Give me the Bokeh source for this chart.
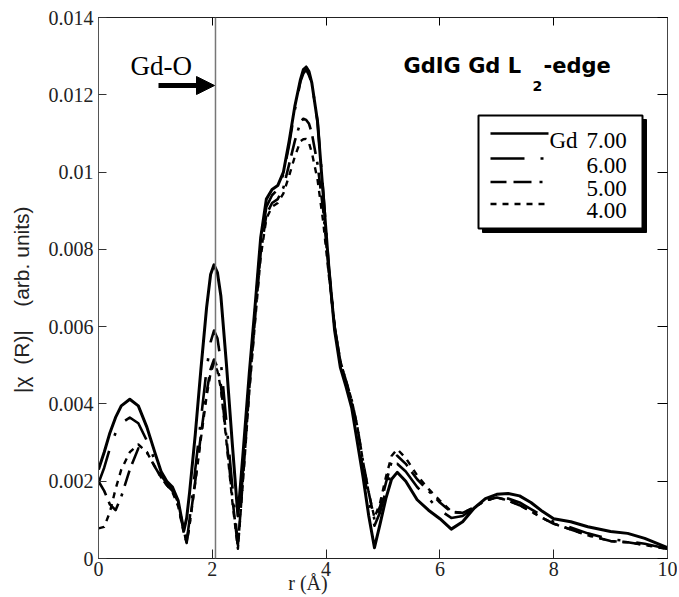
from bokeh.plotting import figure
from bokeh.models import (FixedTicker, LinearAxis, Range1d, Label, Span, Arrow,
                          NormalHead)
from bokeh.embed import file_html
from bokeh.resources import INLINE

# ---------------- data ----------------
r = [0.0, 0.1, 0.2, 0.3, 0.4, 0.55, 0.7, 0.85, 1.0, 1.1, 1.2, 1.3, 1.4, 1.5, 1.55,
     1.6, 1.7, 1.8, 1.9, 1.97, 2.03, 2.09, 2.15, 2.25, 2.35, 2.45, 2.55, 2.65, 2.75, 2.85, 2.95,
     3.05, 3.15, 3.25, 3.35, 3.45, 3.55, 3.6, 3.65, 3.7, 3.75, 3.85, 3.95, 4.05, 4.15, 4.25,
     4.35, 4.45, 4.55, 4.65, 4.75, 4.85, 4.95, 5.05, 5.15, 5.25, 5.4, 5.6, 5.8, 6.0,
     6.2, 6.4, 6.6, 6.8, 7.0, 7.2, 7.4, 7.6, 7.8, 8.0, 8.3, 8.6, 9.0, 9.3, 9.6, 10.0]

gd700 = [2.30, 2.75, 3.25, 3.65, 3.95, 4.12, 3.95, 3.40, 2.70, 2.25, 2.00, 1.85, 1.50, 0.72, 1.05,
         1.70, 3.20, 4.90, 6.50, 7.35, 7.60, 7.40, 6.80, 5.00, 3.00, 1.10, 2.90, 4.80, 6.50, 8.30, 9.30,
         9.55, 9.65, 10.0, 10.8, 11.7, 12.4, 12.65, 12.72, 12.6, 12.3, 11.3, 9.4, 7.5, 5.9, 4.95,
         4.45, 3.9, 3.0, 2.1, 1.1, 0.28, 0.90, 1.55, 2.05, 2.23, 2.00, 1.52, 1.25, 1.03,
         0.76, 0.95, 1.30, 1.55, 1.66, 1.68, 1.62, 1.45, 1.22, 1.03, 0.95, 0.82, 0.70, 0.65, 0.52, 0.28]

gd600 = [1.95, 2.35, 2.85, 3.25, 3.50, 3.65, 3.50, 3.05, 2.50, 2.15, 1.95, 1.80, 1.45, 0.70, 0.45,
         1.00, 2.30, 3.60, 4.90, 5.60, 5.90, 5.70, 5.10, 3.50, 1.90, 0.35, 2.50, 4.60, 6.40, 8.10, 9.10,
         9.40, 9.55, 9.95, 10.7, 11.6, 12.35, 12.55, 12.65, 12.5, 12.3, 11.3, 9.5, 7.5, 6.0, 5.1,
         4.55, 4.0, 3.2, 2.3, 1.5, 0.85, 1.20, 1.75, 2.30, 2.45, 2.25, 1.85, 1.55, 1.25,
         1.05, 1.10, 1.30, 1.50, 1.58, 1.55, 1.45, 1.28, 1.10, 0.95, 0.80, 0.65, 0.50, 0.45, 0.38, 0.25]

gd500 = [2.00, 1.75, 1.40, 1.25, 1.60, 2.30, 2.85, 2.75, 2.35, 2.10, 1.90, 1.75, 1.40, 0.70, 0.42,
         0.90, 2.00, 3.20, 4.30, 4.90, 5.15, 4.95, 4.50, 3.10, 1.60, 0.30, 2.30, 4.40, 6.20, 7.90, 8.90,
         9.20, 9.30, 9.60, 10.2, 10.8, 11.3, 11.38, 11.35, 11.25, 11.0, 10.2, 9.0, 7.4, 6.0, 5.1,
         4.6, 4.1, 3.4, 2.5, 1.7, 1.00, 1.35, 1.95, 2.50, 2.66, 2.45, 2.05, 1.75, 1.45,
         1.20, 1.18, 1.32, 1.50, 1.58, 1.50, 1.38, 1.22, 1.05, 0.90, 0.75, 0.60, 0.45, 0.42, 0.35, 0.25]

gd400 = [0.78, 0.82, 1.20, 1.80, 2.30, 2.75, 2.95, 2.75, 2.35, 2.10, 1.90, 1.72, 1.35, 0.65, 0.40,
         0.85, 1.95, 3.10, 4.20, 4.80, 5.05, 4.85, 4.40, 3.00, 1.50, 0.25, 2.20, 4.30, 6.10, 7.80, 8.80,
         9.10, 9.20, 9.45, 9.90, 10.4, 10.8, 10.85, 10.86, 10.75, 10.5, 9.8, 8.7, 7.3, 6.0, 5.1,
         4.6, 4.1, 3.4, 2.5, 1.7, 1.05, 1.45, 2.10, 2.65, 2.83, 2.60, 2.15, 1.80, 1.50,
         1.22, 1.18, 1.32, 1.50, 1.58, 1.50, 1.38, 1.22, 1.05, 0.90, 0.75, 0.60, 0.45, 0.42, 0.35, 0.25]

series_names = ["7.00", "6.00", "5.00", "4.00"]
series_vals = [gd700, gd600, gd500, gd400]

x_ticks = [0, 2, 4, 6, 8, 10]
y_ticks = [0, 0.002, 0.004, 0.006, 0.008, 0.010, 0.012, 0.014]
y_tick_labels = ["0", "0.002", "0.004", "0.006", "0.008", "0.01", "0.012", "0.014"]
gd_o_position = 2.056

# ---------------- styles ----------------
dashes = ["solid", "34 16 3 16", "16 7 18 8 3 8", "6 6"]
widths = [3.0, 2.6, 2.6, 2.4]

SERIF = "Liberation Serif"
SANS = "Liberation Sans"
TFONT = "DejaVu Sans"
NB = "\u00a0"

# ---------------- figure ----------------
FL, FR, FT, FB = 98, 667, 17, 558   # frame in canvas pixels
W, H = 677, 597
p = figure(width=W, height=H, output_backend="svg", toolbar_location=None,
           x_range=Range1d(0, 10), y_range=Range1d(0, 0.014),
           min_border_left=FL, min_border_right=W - FR,
           min_border_top=FT, min_border_bottom=H - FB)
p.grid.visible = False
p.outline_line_color = "#222222"
p.outline_line_width = 1
p.background_fill_color = "white"
p.border_fill_color = "white"


def X(px):
    return (px - FL) / (FR - FL) * 10.0


def Y(py):
    return (FB - py) / (FB - FT) * 0.014


# axes
xa = p.xaxis[0]
xa.ticker = FixedTicker(ticks=x_ticks)
xa.major_label_text_font = SERIF
xa.major_label_text_font_size = "20px"
xa.major_label_text_color = "#222222"
xa.major_tick_in = 9
xa.major_tick_out = 0
xa.minor_tick_line_color = None
xa.major_label_standoff = 3
xa.axis_line_color = "#222222"
xa.major_tick_line_color = "#222222"
xa.axis_label = "r (Å)" + NB * 30
xa.axis_label_text_font = SERIF
xa.axis_label_text_font_size = "20px"
xa.axis_label_text_font_style = "normal"
xa.axis_label_text_color = "#222222"
xa.axis_label_standoff = -7

ya = p.yaxis[0]
ya.ticker = FixedTicker(ticks=y_ticks)
ya.major_label_overrides = {t: s for t, s in zip(y_ticks, y_tick_labels)}
ya.major_label_text_font = SERIF
ya.major_label_text_font_size = "20px"
ya.major_label_text_color = "#222222"
ya.major_tick_in = 8
ya.major_tick_out = 0
ya.minor_tick_line_color = None
ya.major_label_standoff = 5
ya.axis_line_color = "#555555"
ya.major_tick_line_color = "#333333"
ya.axis_label = "|χ" + NB * 2 + "(R)|" + NB * 4 + "(arb. units)" + NB * 4
ya.axis_label_text_font = SANS
ya.axis_label_text_font_size = "21px"
ya.axis_label_text_font_style = "normal"
ya.axis_label_text_color = "#222222"
ya.axis_label_standoff = 13

top = LinearAxis(ticker=FixedTicker(ticks=x_ticks), major_tick_in=8, major_tick_out=0,
                 major_label_text_font_size="1px", major_label_standoff=0,
                 major_label_overrides={t: "" for t in x_ticks},
                 major_label_text_color=None,
                 minor_tick_line_color=None, axis_line_color="#222222")
right = LinearAxis(ticker=FixedTicker(ticks=y_ticks), major_tick_in=10, major_tick_out=0,
                   major_label_text_font_size="1px", major_label_standoff=0,
                   major_label_overrides={t: "" for t in y_ticks},
                   major_label_text_color=None,
                   minor_tick_line_color=None, axis_line_color="#444444")
p.add_layout(top, "above")
p.add_layout(right, "right")

# Gd-O vertical line
p.add_layout(Span(location=gd_o_position, dimension="height", line_color="#777777",
                  line_width=1.5))

# curves
for vals, dash, w in zip(series_vals, dashes, widths):
    p.line(r, [v * 1e-3 for v in vals], line_color="black", line_width=w,
           line_dash=dash, line_join="round")

# Gd-O annotation and arrow
p.add_layout(Label(x=X(130), y=Y(65), text="Gd-O", text_align="left",
                   text_baseline="alphabetic", text_font=SERIF,
                   text_font_size="27px", text_color="black"))
p.add_layout(Arrow(x_start=X(158), y_start=Y(85), x_end=X(214), y_end=Y(85),
                   line_width=5, line_color="black",
                   end=NormalHead(size=18, fill_color="black", line_color="black")))

# title
p.add_layout(Label(x=X(403), y=Y(65), text="GdIG Gd L", text_align="left",
                   text_baseline="alphabetic", text_font=TFONT, text_font_style="bold",
                   text_font_size="21px", text_color="black"))
p.add_layout(Label(x=X(532), y=Y(85), text="2", text_align="left",
                   text_baseline="alphabetic", text_font=TFONT, text_font_style="bold",
                   text_font_size="14px", text_color="black"))
p.add_layout(Label(x=X(543), y=Y(65), text="-edge", text_align="left",
                   text_baseline="alphabetic", text_font=TFONT, text_font_style="bold",
                   text_font_size="21px", text_color="black"))

# legend box with shadow
p.quad(left=[X(482)], right=[X(646)], top=[Y(119)], bottom=[Y(232)],
       fill_color="black", line_color="black")
p.quad(left=[X(478)], right=[X(642)], top=[Y(115)], bottom=[Y(228)],
       fill_color="white", line_color="black", line_width=2)

row_line_y = [133, 158, 181.5, 203.5]
row_base_y = [140, 165, 188, 210]
for i, (name, dash, w) in enumerate(zip(series_names, dashes, widths)):
    x_end = 548 if i == 0 else 545
    p.line([X(490), X(x_end)], [Y(row_line_y[i]), Y(row_line_y[i])],
           line_color="black", line_width=2.6, line_dash=dash)
    p.add_layout(Label(x=X(586), y=Y(row_base_y[i]), text=name, text_align="left",
                       text_baseline="alphabetic", text_font=SERIF,
                       text_font_size="23px", text_color="black"))
p.add_layout(Label(x=X(549), y=Y(row_base_y[0]), text="Gd", text_align="left",
                   text_baseline="alphabetic", text_font=SERIF,
                   text_font_size="23px", text_color="black"))

open("out.html", "w").write(file_html(p, INLINE))
